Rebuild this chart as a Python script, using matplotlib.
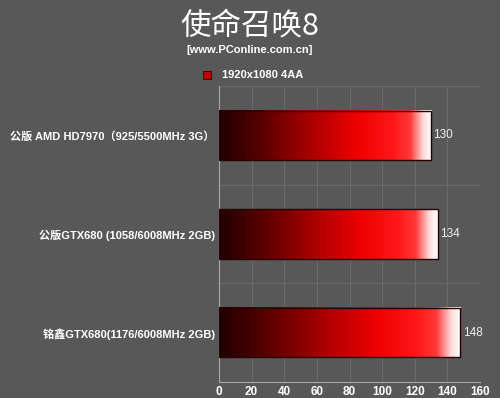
import numpy as np
import matplotlib
matplotlib.use('Agg')
import matplotlib.pyplot as plt
from matplotlib.colors import LinearSegmentedColormap
from matplotlib.patches import Rectangle

plt.rcParams['font.family'] = ['Liberation Sans', 'Noto Sans CJK SC', 'DejaVu Sans']

title = '使命召唤8'
subtitle = '[www.PConline.com.cn]'
series_name = '1920x1080 4AA'
cards = ['公版 AMD HD7970（925/5500MHz 3G）',
         '公版GTX680 (1058/6008MHz 2GB)',
         '铭鑫GTX680(1176/6008MHz 2GB)']
fps = [130, 134, 148]
xticks = [0, 20, 40, 60, 80, 100, 120, 140, 160]

BG = '#585858'
GRID = '#6a6a6a'

bar_cmap = LinearSegmentedColormap.from_list('barred', [
    (0.0, '#200000'), (0.2, '#5a0000'), (0.45, '#b00000'),
    (0.65, '#ee0000'), (0.82, '#ff1818'), (0.9, '#ff3838'),
    (0.96, '#ffd8d8'), (1.0, '#ffffff')])


def gradient_bar(ax, y, value, h=0.5):
    grad = np.linspace(0, 1, 256).reshape(1, -1)
    ax.imshow(grad, cmap=bar_cmap, aspect='auto', interpolation='bilinear',
              extent=(0, value, y + h / 2, y - h / 2), zorder=3)
    ax.add_patch(Rectangle((0, y - h / 2), value, h, fill=False,
                           edgecolor='#2a0000', lw=1.0, zorder=4))


fig = plt.figure(figsize=(5.0, 3.98), dpi=100, facecolor=BG)
ax = fig.add_axes([0.438, 0.040, 0.522, 0.744], facecolor=BG)

for i, v in enumerate(fps):
    gradient_bar(ax, i, v)
    ax.text(v + 1.5, i, str(v), va='center', ha='left', color='#f0f0f0',
            fontsize=8.5, zorder=5)

ax.set_xlim(0, 160)
ax.set_ylim(len(cards) - 0.5, -0.5)
ax.set_xticks(xticks)
ax.set_xticklabels([str(t) for t in xticks], fontsize=8.5, fontweight='bold',
                   color='white')
ax.set_yticks(range(len(cards)))
ax.set_yticklabels(cards, fontsize=8, fontweight='bold', color='white')
ax.set_yticks(np.arange(-0.5, len(cards), 1), minor=True)
ax.tick_params(axis='both', length=0, pad=3)
ax.tick_params(axis='y', which='minor', length=0)

ax.grid(axis='x', color=GRID, lw=0.8, zorder=0)
ax.grid(axis='y', which='minor', color=GRID, lw=0.8, zorder=0)
ax.set_axisbelow(True)

for s in ['top', 'right']:
    ax.spines[s].set_visible(False)
ax.spines['left'].set_color('#a8a8a8')
ax.spines['bottom'].set_color('#a8a8a8')

fig.text(0.5, 0.932, title, ha='center', va='center', fontsize=22,
         color='white', fontweight='light', family=['Noto Sans CJK SC', 'DejaVu Sans'])
fig.text(0.5, 0.874, subtitle, ha='center', va='center', fontsize=8,
         color='white', fontweight='bold')

# legend marker and label
fig.patches.append(Rectangle((0.406, 0.802), 0.016, 0.02, transform=fig.transFigure,
                             facecolor='#c00000', edgecolor='#300000', lw=0.6))
fig.text(0.443, 0.811, series_name, ha='left', va='center', fontsize=8,
         color='white', fontweight='bold')

fig.savefig('out.png', dpi=100, facecolor=BG)
